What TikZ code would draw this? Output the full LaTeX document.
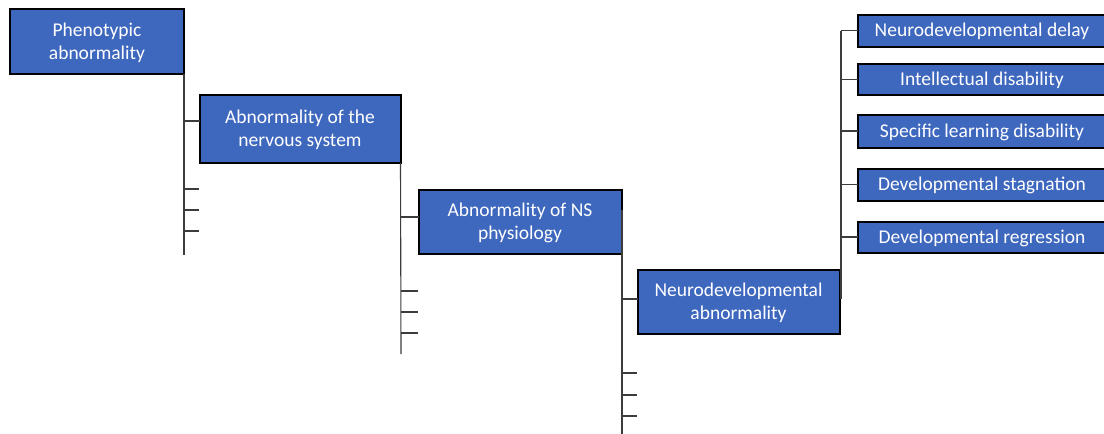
\documentclass[tikz,border=0pt]{standalone}
\usepackage{fontspec}
\setmainfont{Carlito}
\definecolor{boxblue}{RGB}{62,103,190}
\definecolor{linegray}{RGB}{60,60,60}
\begin{document}
\begin{tikzpicture}[x=1pt,y=-1pt,
  hbox/.style={draw=black, line width=2pt, fill=boxblue, inner sep=0pt, outer sep=0pt},
  txt/.style={text=white, align=center, inner sep=0pt, font=\fontsize{19.5}{23.5}\selectfont},
  conn/.style={draw=linegray, line width=1.1pt}]
\clip (0,0) rectangle (1104,434);
\fill[white] (0,0) rectangle (1104,434);
% main boxes
\node[hbox, minimum width=174pt, minimum height=65pt, label={[txt,yshift=-2pt]center:Phenotypic\\abnormality}] (b1) at (97,41) {};
\node[hbox, minimum width=201pt, minimum height=68pt, label={[txt,yshift=-1.5pt]center:Abnormality of the\\nervous system}] (b2) at (300,128.5) {};
\node[hbox, minimum width=203pt, minimum height=64pt, label={[txt,yshift=-1.5pt]center:Abnormality of NS\\physiology}] (b3) at (520,221.5) {};
\node[hbox, minimum width=202pt, minimum height=64pt, label={[txt,yshift=-1.5pt]center:Neurodevelopmental\\abnormality}] (b4) at (738.5,301.5) {};
% children
\node[hbox, minimum width=248pt, minimum height=32pt, label={[txt,yshift=-1pt]center:Neurodevelopmental delay}] (c1) at (982,30.5) {};
\node[hbox, minimum width=248pt, minimum height=31pt, label={[txt,yshift=-1pt]center:Intellectual disability}] (c2) at (982,79.5) {};
\node[hbox, minimum width=248pt, minimum height=33pt, label={[txt,yshift=-1pt]center:Specific learning disability}] (c3) at (982,131) {};
\node[hbox, minimum width=248pt, minimum height=32pt, label={[txt,yshift=-1pt]center:Developmental stagnation}] (c4) at (982,184.5) {};
\node[hbox, minimum width=248pt, minimum height=31pt, label={[txt,yshift=-1pt]center:Developmental regression}] (c5) at (982,237) {};
% ends of trunks, junctions and stubs
\coordinate (e1) at (184,255);
\coordinate (e2) at (401,354);
\coordinate (e3) at (622,434);
\coordinate (t3) at (622,210);
\coordinate (t4) at (841,299);
\coordinate (j2) at (199,121);
\coordinate (j3) at (418,217);
\coordinate (j4) at (637,299);
\coordinate (s11) at (199,189);
\coordinate (s12) at (199,210);
\coordinate (s13) at (199,231);
\coordinate (s21) at (418,291);
\coordinate (s22) at (418,312);
\coordinate (s23) at (418,333);
\coordinate (s31) at (637,373);
\coordinate (s32) at (637,395);
\coordinate (s33) at (637,416);
% trunks
\draw[conn] (b1.south east) -- (e1);
\draw[conn] (b2.south east) -- (e2);
\draw[conn] (t3) -- (e3);
\draw[conn] (t4) -- (t4 |- c1.west);
% branches
\draw[conn] (e1 |- j2) -- (b2.west |- j2);
\draw[conn] (e2 |- j3) -- (b3.west |- j3);
\draw[conn] (e3 |- j4) -- (b4.west |- j4);
\foreach \c in {c1,c2,c3,c4,c5}{\draw[conn] (t4 |- \c.west) -- (\c.west);}
% stubs
\foreach \s in {s11,s12,s13}{\draw[conn] (e1 |- \s) -- (\s);}
\foreach \s in {s21,s22,s23}{\draw[conn] (e2 |- \s) -- (\s);}
\foreach \s in {s31,s32,s33}{\draw[conn] (e3 |- \s) -- (\s);}
\end{tikzpicture}
\end{document}
